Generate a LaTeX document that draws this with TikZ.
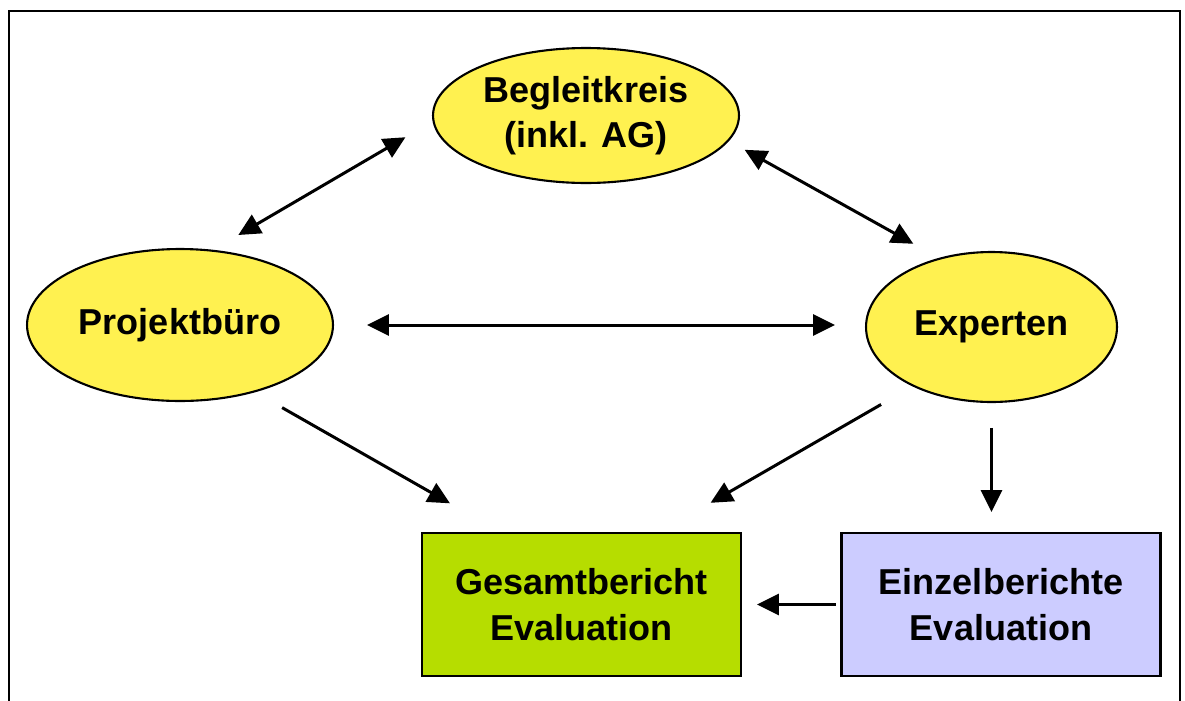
\documentclass[tikz,border=0pt]{standalone}
\usepackage{fontspec}
\setmainfont{Liberation Sans}
\usetikzlibrary{shapes.geometric,arrows.meta}
\definecolor{ellyellow}{RGB}{255,241,80}
\definecolor{boxgreen}{RGB}{182,221,0}
\definecolor{boxlav}{RGB}{204,204,255}
\tikzset{
  ell/.style={ellipse, draw=black, line width=1.2pt, fill=ellyellow, inner sep=0pt, outer sep=0pt,
    font=\fontsize{20.5}{25.5}\selectfont\bfseries, align=center},
  rep/.style={rectangle, draw=black, line width=1.2pt, inner sep=0pt, outer sep=0pt,
    minimum width=6.38cm, minimum height=2.86cm,
    font=\fontsize{20.5}{26}\selectfont\bfseries, align=center},
  conn/.style={line width=1.7pt, -{Triangle[length=0.44cm,width=0.42cm]}},
  bconn/.style={line width=1.7pt, {Triangle[length=0.44cm,width=0.42cm]}-{Triangle[length=0.44cm,width=0.42cm]}},
  frame/.style={line width=1.6pt}
}
\begin{document}
\begin{tikzpicture}[x=0.02cm,y=-0.02cm]
\useasboundingbox (0,0) rectangle (1185,700);
\draw[frame] (9,720) -- (9,11) -- (1180,11) -- (1180,720);

\node[ell, minimum width=6.12cm, minimum height=2.7cm] (b) at (586,115.5) {Begleitkreis\\(inkl. AG)};
\node[ell, minimum width=6.12cm, minimum height=3.04cm] (p) at (180,325) {Projektbüro};
\node[ell, minimum width=5.02cm, minimum height=3.0cm] (e) at (991.5,327) {Experten};
\node[rep, fill=boxgreen] (g) at (581.5,604.5) {Gesamtbericht\\Evaluation};
\node[rep, fill=boxlav] (n) at (1001,604.5) {Einzelberichte\\Evaluation};

\draw[bconn, shorten <=0.65cm, shorten >=0.62cm] (b.182.4) -- (p.67.4);
\draw[bconn, shorten <=0.38cm, shorten >=0.61cm] (b.-10) -- (e.127.9);
\draw[bconn, shorten <=0.68cm, shorten >=0.62cm] (p.east) -- (p.east -| e.west);
\draw[conn, shorten <=0.65cm, shorten >=1.2cm] (p.-42.2) -- (g.138.4);
\draw[conn, shorten <=0.75cm, shorten >=1.21cm] (e.217.7) -- (g.43.3);
\draw[conn, shorten <=0.52cm, shorten >=0.42cm] (e.south) -- (e.south |- n.north);
\draw[conn, shorten <=0.12cm, shorten >=0.32cm] (n.west) -- (g.east);
\end{tikzpicture}
\end{document}
